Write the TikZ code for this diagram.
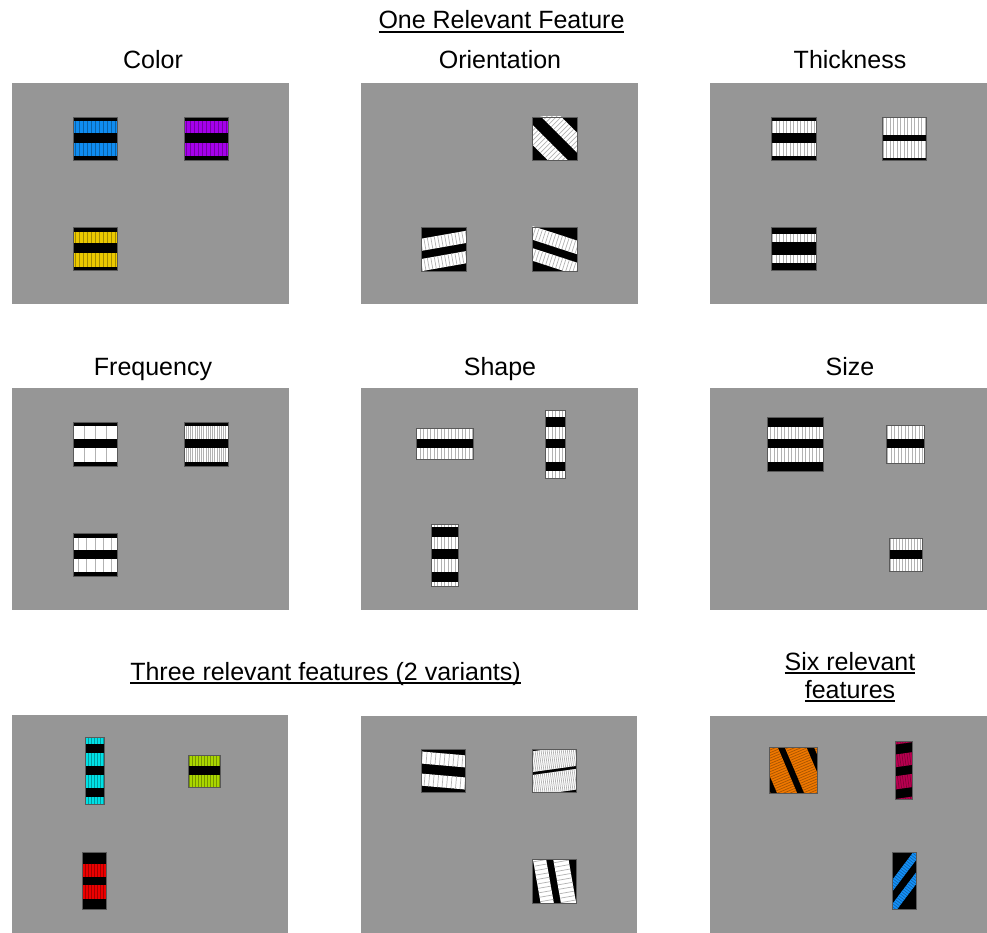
\documentclass[tikz,border=0pt]{standalone}
\usepackage{fontspec}
\setmainfont{Liberation Sans}

\definecolor{fond}{RGB}{150,150,150}
\definecolor{bleu}{RGB}{15,140,240}
\definecolor{pourpre}{RGB}{165,0,235}
\definecolor{jaune}{RGB}{235,200,0}
\definecolor{turquoise}{RGB}{0,225,230}
\definecolor{citron}{RGB}{170,215,0}
\definecolor{rouge}{RGB}{235,0,0}
\definecolor{orangevif}{RGB}{240,120,0}
\definecolor{cramoisi}{RGB}{185,0,80}
\definecolor{azur}{RGB}{20,145,250}

\newsavebox{\boiteligne}
\newcommand{\souligne}[1]{\sbox{\boiteligne}{#1}\rlap{\rule[-3.8pt]{\wd\boiteligne}{1.7pt}}\usebox{\boiteligne}}

% bandes claires rayées, tournées de #1
\newcommand{\grille}[4]{%
  \begin{scope}
    \pgftransformshift{\pgfpointanchor{path picture bounding box}{center}}
    \pgftransformrotate{#1}
    \foreach \a/\b in {#3} {
      \fill[#2] (-60,\a) rectangle (60,\b);
      \foreach \i in {-30,...,30}
        \draw[#2!70!black, line width=0.7pt] (\i*#4,\a) -- (\i*#4,\b);
    }
  \end{scope}%
}

\begin{document}
\begin{tikzpicture}[
    x=1pt, y=-1pt,
    every node/.style={font=\fontsize{25}{28}\selectfont},
    titre/.style={anchor=base},
    motif/.style n args={6}{draw=black!65, line width=0.8pt, fill=black, inner sep=0pt,
        minimum width=#1pt, minimum height=#2pt, path picture={\grille{#3}{#4}{#5}{#6}}},
]
\useasboundingbox (0,0) rectangle (987,933);

% Fonds
\fill[fond] (12,83) rectangle (289,304);
\fill[fond] (361,83) rectangle (638,304);
\fill[fond] (710,83) rectangle (987,304);
\fill[fond] (12,388) rectangle (289,610);
\fill[fond] (361,388) rectangle (638,610);
\fill[fond] (710,388) rectangle (987,610);
\fill[fond] (12,715) rectangle (288,933);
\fill[fond] (361,716) rectangle (637,933);
\fill[fond] (710,716) rectangle (987,933);

% Titres
\node[titre] (titreun) at (501.5,29) {\souligne{One Relevant Feature}};
\node[titre] (tcouleur) at (153,69) {Color};
\node[titre] (torient) at (500,69) {Orientation};
\node[titre] (tepais) at (850,69) {Thickness};
\node[titre] (tfreq) at (153,375) {Frequency};
\node[titre] (tforme) at (500,375) {Shape};
\node[titre] (ttaille) at (850,375) {Size};
\node[titre] (ttrois) at (325.5,680) {\souligne{Three relevant features (2 variants)}};
\node[titre, align=center] (tsix) at (850,698) {\souligne{Six relevant}\\\souligne{features}};

% Premier rang
\node[motif={44}{43}{0}{bleu}{-17/-5.5,4.5/18}{4}] (couleur1) at (95,138.5) {};
\node[motif={44}{43}{0}{pourpre}{-17/-5.5,4.5/18}{4}] (couleur2) at (206,138.5) {};
\node[motif={44}{43}{0}{jaune}{-17/-5.5,4.5/18}{4}] (couleur3) at (95,249) {};

\node[motif={45}{43}{-45}{white}{-20/-6,6/20}{3.5}] (orient1) at (554.5,138.5) {};
\node[motif={45}{44}{10}{white}{-14/-2,6/18}{3.5}] (orient2) at (443.5,249) {};
\node[motif={45}{44}{-18}{white}{-15/-2,6/18}{3.5}] (orient3) at (554.5,249) {};

\node[motif={45}{43}{0}{white}{-17.5/-5.5,4.5/17.5}{3.5}] (epais1) at (793.5,138.5) {};
\node[motif={44}{43}{0}{white}{-20/-3,3/20}{3.5}] (epais2) at (904,138.5) {};
\node[motif={45}{43}{0}{white}{-14.5/-6.5,6.5/14.5}{3.5}] (epais3) at (793.5,248.5) {};

% Deuxième rang
\node[motif={44}{44}{0}{white}{-18/-5,4/18}{11}] (freq1) at (95,444) {};
\node[motif={44}{44}{0}{white}{-18/-5,4/18}{2.2}] (freq2) at (206,444) {};
\node[motif={44}{43}{0}{white}{-17/-5,4/17.5}{8.2}] (freq3) at (95,554.5) {};

\node[motif={57}{31}{0}{white}{-16/-5,4.5/16}{3.5}] (forme1) at (444.5,443.5) {};
\node[motif={20}{68}{0}{white}{-40/-27,-17/-5,4/18,27/40}{3.5}] (forme2) at (555.5,444) {};
\node[motif={27}{62}{0}{white}{-40/-28,-18/-6,4/17,27/39}{3.5}] (forme3) at (444.5,555) {};

\node[motif={56}{54}{0}{white}{-17/-5,4/18}{3.5}] (taille1) at (795,444) {};
\node[motif={38}{38}{0}{white}{-19/-5,4/19}{3.5}] (taille2) at (905,444) {};
\node[motif={33}{33}{0}{white}{-17/-4.5,4.5/17}{3}] (taille3) at (905.5,554.5) {};

% Troisième rang
\node[motif={19}{67}{0}{turquoise}{-40/-26.5,-17.5/-4.5,4.5/17.5,26.5/40}{3}] (trois1) at (94.5,770.5) {};
\node[motif={32}{32}{0}{citron}{-20/-5,4/20}{3}] (trois2) at (204.5,771) {};
\node[motif={24}{57}{0}{rouge}{-17.5/-4.5,4/17.5}{3}] (trois3) at (94.5,881) {};

\node[motif={44}{43}{-5}{white}{-17/-5,5/17}{4.5}] (var1) at (443.5,770.5) {};
\node[motif={44}{43}{8}{white}{-22/-1.5,1.5/22}{2}] (var2) at (554,770.5) {};
\node[motif={44}{44}{-80}{white}{-18/-3,4/17}{4.5}] (var3) at (554,881) {};

\node[motif={48}{46}{-67}{orangevif}{-46/-28,-21/-1,5.5/24,30/50}{2.5}] (six1) at (793.3,770) {};
\node[motif={17}{58}{8}{cramoisi}{-40/-27,-17/-4.5,4.5/17.5,27/40}{2.5}] (six2) at (904.2,770.5) {};
\node[motif={24}{57}{53}{azur}{-10/-3,4.5/11.5}{2.5}] (six3) at (904,881) {};

\end{tikzpicture}
\end{document}
